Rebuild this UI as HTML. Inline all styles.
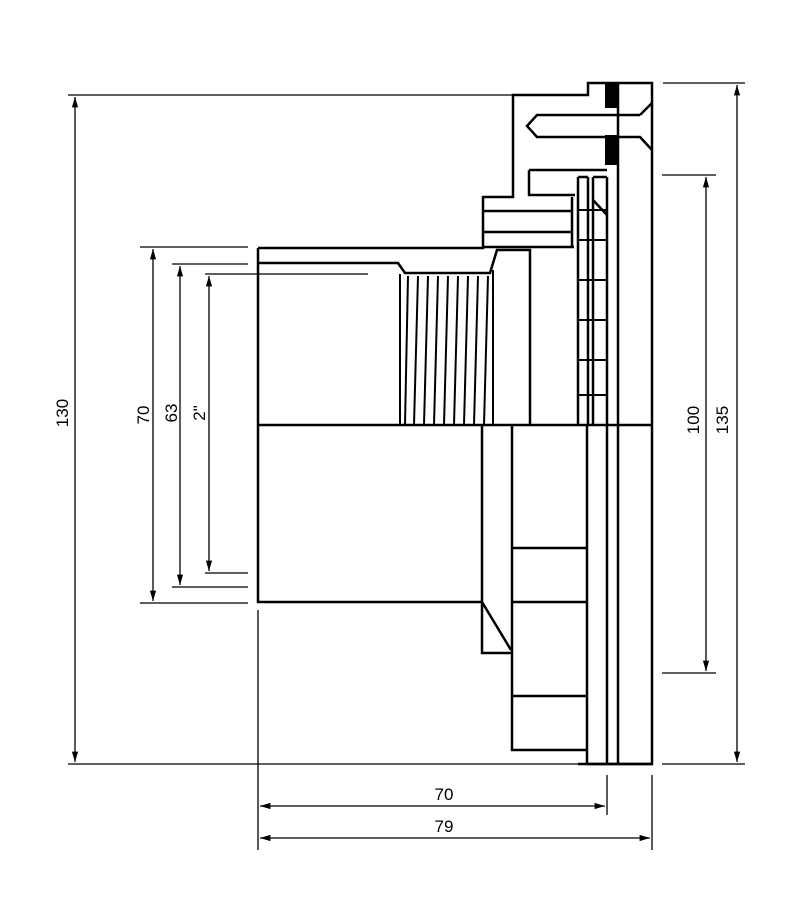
<!DOCTYPE html>
<html><head><style>html,body{margin:0;padding:0;background:#fff}svg{display:block}</style></head>
<body>
<svg width="800" height="920" viewBox="0 0 800 920" xmlns="http://www.w3.org/2000/svg" font-family="Liberation Sans, sans-serif">
<defs>
<marker id="a" viewBox="0 0 10 10" refX="10" refY="5" markerWidth="8" markerHeight="8" orient="auto-start-reverse"><path d="M0,2 L10,5 L0,8 z" fill="#000"/></marker>
</defs>
<g stroke="#000" fill="none" stroke-width="2.5">
<path d="M258,248 H483 V197 H513 V95 H588 V83 H652 V764 H587"/>
<path d="M258,248 V602 H482"/>
<path d="M258,263 H398 L405,273 H490 L497,250 H530 V425"/>
<line x1="483" y1="247" x2="574" y2="247"/>
<line x1="258" y1="425" x2="652" y2="425"/>
<g stroke-width="2">
<line x1="400" y1="274" x2="400" y2="425"/><line x1="408" y1="276" x2="405" y2="425"/>
<line x1="418" y1="276" x2="414" y2="425"/><line x1="428" y1="276" x2="424" y2="425"/>
<line x1="438" y1="276" x2="434" y2="425"/><line x1="448" y1="276" x2="444" y2="425"/>
<line x1="458" y1="276" x2="454" y2="425"/><line x1="468" y1="276" x2="464" y2="425"/>
<line x1="478" y1="276" x2="474" y2="425"/><line x1="488" y1="276" x2="484" y2="425"/>
<line x1="493" y1="270" x2="493" y2="425"/>
</g>
<path d="M483,211 H572 M483,232 H572 M572,197 V247"/>
<path d="M529,170 H607 M529,170 V195 H575"/>
<path d="M640,115 H537 L527,126 L537,137 H640 L652,150 M640,115 L652,103"/>
<path d="M578,177 V425 M588,177 V425 M593,177 V425 M607,177 V425 M578,177 H588 M593,177 H607"/>
<path d="M593,200 L607,215" />
<g stroke-width="2"><path d="M578,210 H607 M578,240 H607 M578,280 H607 M578,320 H607 M578,360 H607 M578,395 H607"/></g>
<line x1="618" y1="83" x2="618" y2="764"/>
<line x1="607" y1="425" x2="607" y2="764"/>
<line x1="587" y1="425" x2="587" y2="764"/>
<line x1="578" y1="764" x2="652" y2="764"/>
<path d="M482,425 V653 H512 M482,602 L511,650"/>
<path d="M512,425 V750 H587 M512,548 H587 M512,602 H587 M512,696 H587"/>
</g>
<rect x="605" y="83" width="13" height="25" fill="#000"/>
<rect x="605" y="135" width="13" height="30" fill="#000"/>
<g stroke="#000" stroke-width="1.3" fill="none">
<line x1="68" y1="95" x2="588" y2="95"/>
<line x1="68" y1="764" x2="580" y2="764"/>
<line x1="75" y1="97" x2="75" y2="762" marker-start="url(#a)" marker-end="url(#a)"/>
<line x1="140" y1="247" x2="248" y2="247"/><line x1="140" y1="603" x2="248" y2="603"/>
<line x1="153" y1="249" x2="153" y2="601" marker-start="url(#a)" marker-end="url(#a)"/>
<line x1="172" y1="264" x2="248" y2="264"/><line x1="172" y1="587" x2="248" y2="587"/>
<line x1="180" y1="266" x2="180" y2="585" marker-start="url(#a)" marker-end="url(#a)"/>
<line x1="205" y1="274" x2="368" y2="274"/><line x1="205" y1="573" x2="248" y2="573"/>
<line x1="209" y1="276" x2="209" y2="571" marker-start="url(#a)" marker-end="url(#a)"/>
<line x1="663" y1="83" x2="745" y2="83"/><line x1="662" y1="764" x2="745" y2="764"/>
<line x1="737" y1="85" x2="737" y2="762" marker-start="url(#a)" marker-end="url(#a)"/>
<line x1="662" y1="175" x2="716" y2="175"/><line x1="662" y1="673" x2="716" y2="673"/>
<line x1="706" y1="177" x2="706" y2="671" marker-start="url(#a)" marker-end="url(#a)"/>
<line x1="258" y1="610" x2="258" y2="850"/>
<line x1="607" y1="775" x2="607" y2="815"/>
<line x1="652" y1="775" x2="652" y2="850"/>
<line x1="260" y1="806" x2="605" y2="806" marker-start="url(#a)" marker-end="url(#a)"/>
<line x1="260" y1="838" x2="650" y2="838" marker-start="url(#a)" marker-end="url(#a)"/>
</g>
<g font-size="17" fill="#000" text-anchor="middle">
<text x="444" y="800">70</text>
<text x="444" y="832">79</text>
<text transform="translate(68,413) rotate(-90)">130</text>
<text transform="translate(149,415) rotate(-90)">70</text>
<text transform="translate(177,413) rotate(-90)">63</text>
<text transform="translate(205,413) rotate(-90)">2"</text>
<text transform="translate(699,420) rotate(-90)">100</text>
<text transform="translate(728,420) rotate(-90)">135</text>
</g>
</svg>
</body></html>
